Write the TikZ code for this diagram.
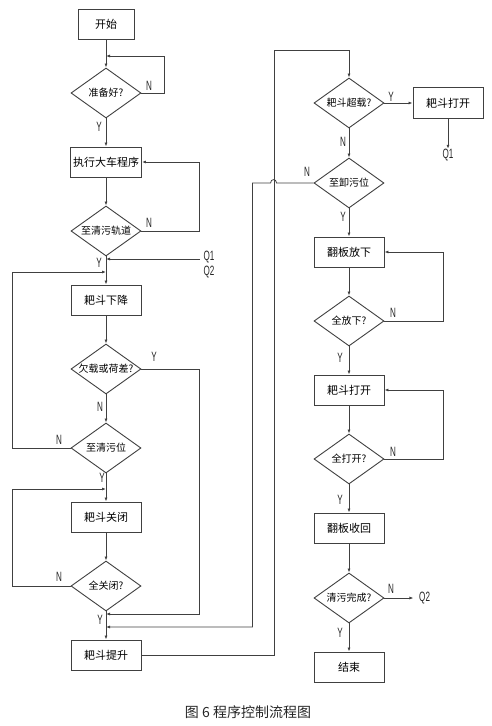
\documentclass[tikz,border=0pt]{standalone}
\usepackage{fontspec}
\usepackage{tikz}
\usetikzlibrary{shapes.geometric, arrows.meta}
\newfontfamily\cjk{Noto Sans CJK SC}
\newfontfamily\lblfont[FakeStretch=0.6]{Liberation Sans}

\begin{document}
\begin{tikzpicture}[x=1pt, y=-1pt,
        box/.style={draw=black!75, line width=0.9pt, rectangle, minimum width=70pt, minimum height=30pt, inner sep=0pt, font=\cjk\fontsize{11}{11}\selectfont},
        decision/.style={draw=black!75, line width=0.9pt, diamond, aspect=1.4, minimum width=70pt, minimum height=50pt, inner sep=0pt, font=\cjk\fontsize{10}{10}\selectfont},
        lbl/.style={inner sep=0pt, font=\lblfont\fontsize{13.5}{13.5}\selectfont, text=black!85},
        arr/.style={draw=black!75, line width=0.8pt, -{Latex[length=4pt, width=3pt]}}]
        \useasboundingbox (0,0) rectangle (491,726);

        % Nodes, left column
        \node[box, minimum width=56pt] (start) at (106,24) {开始};
        \node[decision] (ready) at (106,93) {准备好?};
        \node[box, minimum width=71pt] (run) at (106,162) {执行大车程序};
        \node[decision] (track) at (106,231) {至清污轨道};
        \node[box] (down) at (106,300) {耙斗下降};
        \node[decision] (under) at (106,369) {欠载或荷差?};
        \node[decision] (pos1) at (106,448) {至清污位};
        \node[box] (close) at (106,517) {耙斗关闭};
        \node[decision] (closed) at (106,586) {全关闭?};
        \node[box] (lift) at (106,655) {耙斗提升};

        % Nodes, right column
        \node[decision] (over) at (349,103) {耙斗超载?};
        \node[box, minimum height=31pt] (open1) at (448,103) {耙斗打开};
        \node[decision] (unload) at (349,183) {至卸污位};
        \node[box] (flapdown) at (349,252) {翻板放下};
        \node[decision] (flapdone) at (349,321) {全放下?};
        \node[box] (open2) at (349,390) {耙斗打开};
        \node[decision] (opened) at (349,459) {全打开?};
        \node[box] (flapup) at (349,528) {翻板收回};
        \node[decision] (done) at (349,598) {清污完成?};
        \node[box] (finish) at (349,667) {结束};

        % Junctions
        \coordinate (j1) at (106,56);
        \coordinate (j2) at (106,259);
        \coordinate (j3) at (106,272);
        \coordinate (j4) at (106,489);
        \coordinate (j5) at (106,614);
        \coordinate (j6) at (106,627);
        \coordinate (qin) at (200,259);
        \coordinate (upc) at (274,50);

        % Jump labels
        \node[lbl] (q1a) at (209,257) {Q1};
        \node[lbl] (q2a) at (209,272) {Q2};
        \node[lbl] (q1b) at (448,155) {Q1};
        \node[lbl, anchor=west] (q2b) at (419,598) {Q2};

        % Y / N labels
        \node[lbl] (nReady) at (149,86) {N};
        \node[lbl] (yReady) at (99,127) {Y};
        \node[lbl] (nTrack) at (149,223) {N};
        \node[lbl] (yTrack) at (99,263) {Y};
        \node[lbl] (yUnder) at (154,357) {Y};
        \node[lbl] (nUnder) at (100,407) {N};
        \node[lbl] (nPos) at (59,440) {N};
        \node[lbl] (yPos) at (102,478) {Y};
        \node[lbl] (nClosed) at (59,577) {N};
        \node[lbl] (yClosed) at (100,620) {Y};
        \node[lbl] (yOver) at (391,97) {Y};
        \node[lbl] (nOver) at (343,142) {N};
        \node[lbl] (nUnload) at (307,172) {N};
        \node[lbl] (yUnload) at (343,217) {Y};
        \node[lbl] (nFlap) at (393,313) {N};
        \node[lbl] (yFlap) at (340,358) {Y};
        \node[lbl] (nOpened) at (393,452) {N};
        \node[lbl] (yOpened) at (340,500) {Y};
        \node[lbl] (nDone) at (391,589) {N};
        \node[lbl] (yDone) at (340,633) {Y};

        % Caption
        \node[font=\cjk\fontsize{14}{14}\selectfont, text=black!85] (caption) at (248,712) {图 6 程序控制流程图};

        % Edges, left column
        \draw[arr] (start) -- (ready);
        \draw[arr] (ready.east) -- ++(23,0) |- (j1);
        \draw[arr] (ready) -- (run);
        \draw[arr] (run) -- (track);
        \draw[arr] (track.east) -- ++(58,0) |- (run.east);
        \draw[arr] (track) -- (down);
        \draw[arr] (qin) -- (j2);
        \draw[arr] (pos1.west) -- ++(-58,0) |- (j3);
        \draw[arr] (down) -- (under);
        \draw[arr] (under.east) -- ++(58,0) |- (j5);
        \draw[arr] (under) -- (pos1);
        \draw[arr] (pos1) -- (close);
        \draw[arr] (close) -- (closed);
        \draw[arr] (closed.west) -- ++(-58,0) |- (j4);
        \draw[arr] (closed) -- (lift);
        \draw[arr] (lift.east) -| (upc) -| (over.north);

        % Edges, right column
        \draw[arr] (over) -- (open1);
        \draw[arr] (open1) -- (q1b);
        \draw[arr] (over) -- (unload);
        \draw[arr] (unload.west) -- ++(-37,0) .. controls +(0,-4.5) and +(0,-4.5) .. ++(-6,0) -- ++(-18,0) |- (j6);
        \draw[arr] (unload) -- (flapdown);
        \draw[arr] (flapdown) -- (flapdone);
        \draw[arr] (flapdone.east) -- ++(59,0) |- (flapdown.east);
        \draw[arr] (flapdone) -- (open2);
        \draw[arr] (open2) -- (opened);
        \draw[arr] (opened.east) -- ++(59,0) |- (open2.east);
        \draw[arr] (opened) -- (flapup);
        \draw[arr] (flapup) -- (done);
        \draw[arr] (done.east) -- ++(29,0);
        \draw[arr] (done) -- (finish);
    \end{tikzpicture}
\end{document}
